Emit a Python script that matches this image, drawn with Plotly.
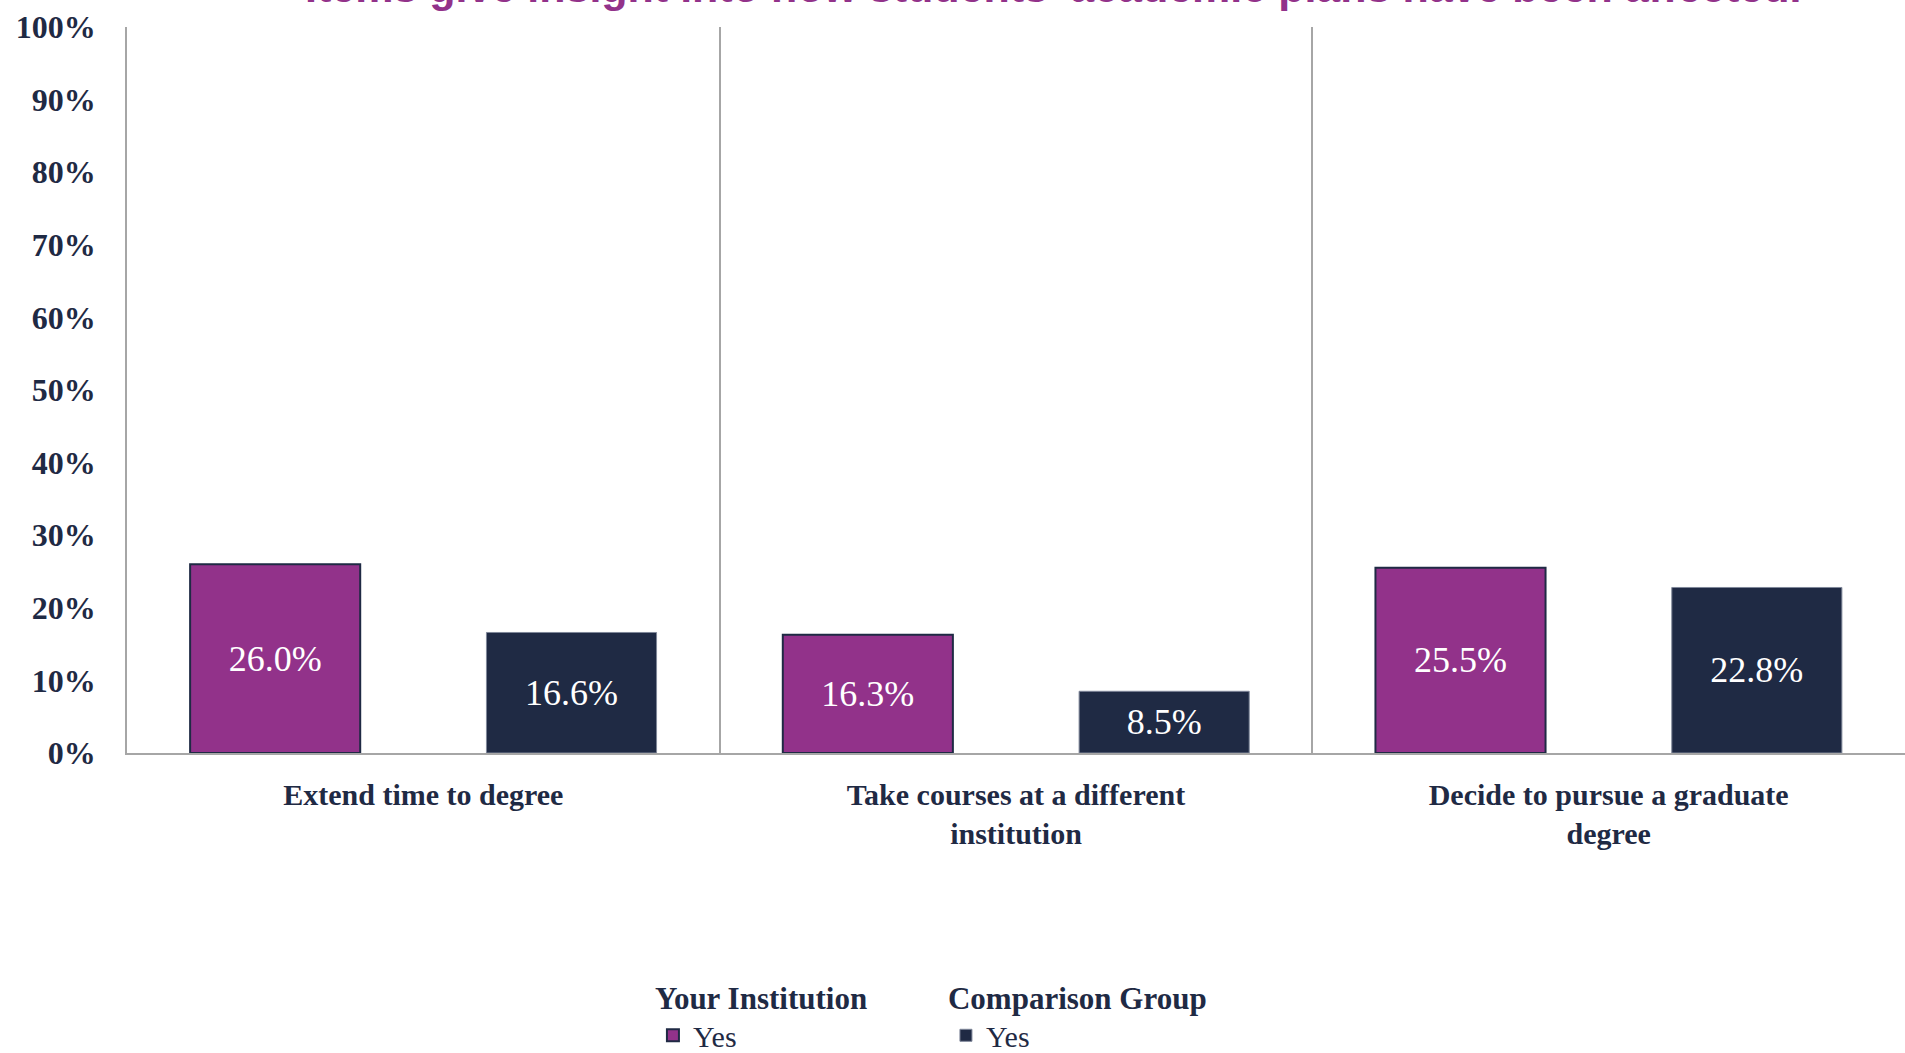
import plotly.graph_objects as go

categories = ["Extend time to degree",
              "Take courses at a different<br>institution",
              "Decide to pursue a graduate<br>degree"]
your_institution = [26.0, 16.3, 25.5]
comparison_group = [16.6, 8.5, 22.8]
y_ticks = [0, 10, 20, 30, 40, 50, 60, 70, 80, 90, 100]
title_text = "Items give insight into how students' academic plans have been affected."

PURPLE = "#92328A"
NAVY = "#1F2A44"
SERIF = "Liberation Serif, Times New Roman, serif"

fig = go.Figure()
fig.add_trace(go.Bar(
    x=categories, y=your_institution, name="Yes", legend="legend",
    marker=dict(color=PURPLE, line=dict(color=NAVY, width=2)),
    text=[f"{v:.1f}%" for v in your_institution],
    textposition="inside", insidetextanchor="middle",
    textfont=dict(color="white", size=36, family=SERIF),
))
fig.add_trace(go.Bar(
    x=categories, y=comparison_group, name="Yes", legend="legend2",
    marker=dict(color=NAVY, line=dict(color="#7F8799", width=1)),
    text=[f"{v:.1f}%" for v in comparison_group],
    textposition="inside", insidetextanchor="middle",
    textfont=dict(color="white", size=36, family=SERIF),
))

# title sits mostly above the visible page, as in the source
fig.add_annotation(text=f"<b>{title_text}</b>", xref="paper", yref="paper",
                   x=0.521, y=1, xanchor="center", yanchor="bottom", yshift=14,
                   showarrow=False, font=dict(size=43, color=PURPLE,
                                              family="Liberation Sans, Arial, sans-serif"))

title_font = dict(size=31, color=NAVY, family=SERIF)
legend_style = dict(orientation="v", y=-0.2975, yanchor="top", xanchor="left",
                    font=dict(size=30, color=NAVY, family=SERIF), itemclick=False,
                    bgcolor="rgba(0,0,0,0)")
fig.update_layout(
    width=1905, height=1053,
    margin=dict(l=127, r=0, t=27, b=300, autoexpand=False),
    plot_bgcolor="white", paper_bgcolor="white",
    barmode="group", bargap=0.0, bargroupgap=0.426,
    font=dict(family=SERIF, color=NAVY),
    showlegend=True,
    legend=dict(x=0.2958, title=dict(text="<b>Your Institution</b>", side="top", font=title_font),
                **legend_style),
    legend2=dict(x=0.4606, title=dict(text="<b>Comparison Group</b>", side="top", font=title_font),
                 **legend_style),
)
fig.update_xaxes(
    type="category", tickson="boundaries", ticks="",
    showgrid=True, gridcolor="#A6A6A6", gridwidth=1.5,
    showline=True, linecolor="#A6A6A6", linewidth=2,
    tickfont=dict(size=30, color=NAVY, family=SERIF),
    ticklabelstandoff=14, automargin=False,
    tickvals=categories, ticktext=[f"<b>{c}</b>" for c in categories],
)
fig.update_yaxes(
    range=[0, 100], tickvals=y_ticks, ticktext=[f"<b>{v}%</b>" for v in y_ticks],
    showgrid=False, zeroline=False,
    showline=True, linecolor="#A6A6A6", linewidth=1.5,
    tickfont=dict(size=32, color=NAVY, family=SERIF),
    ticklabelstandoff=23, automargin=False,
)

fig.write_html("out.html", config={"displayModeBar": False},
               post_script="document.body.style.margin = '0px';")
